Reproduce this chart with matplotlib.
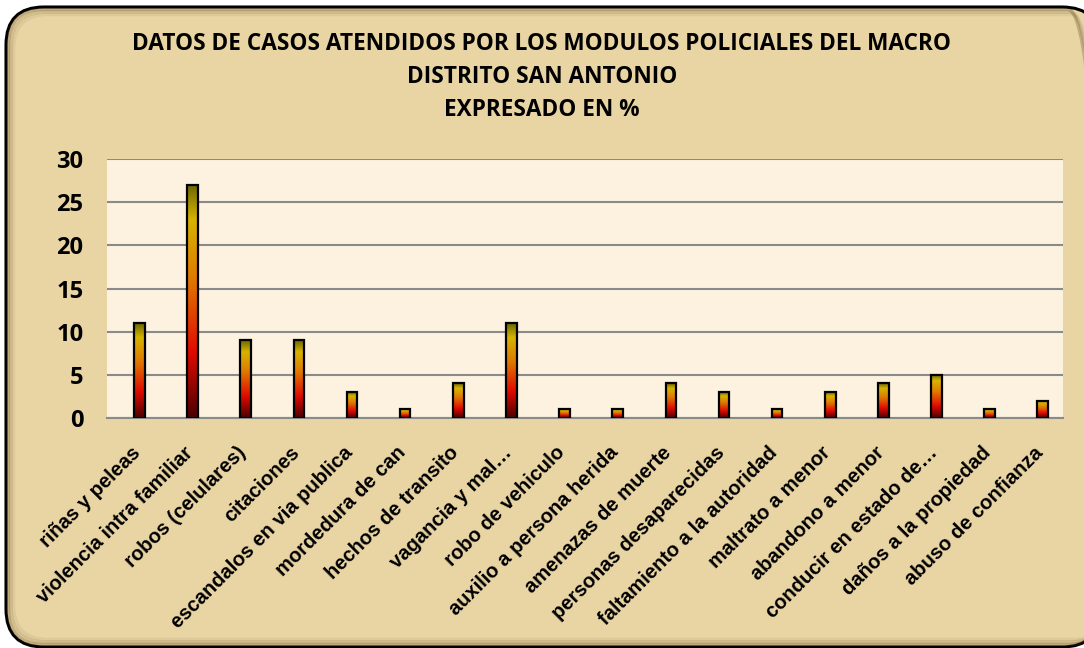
import numpy as np
import matplotlib
matplotlib.use("Agg")
import matplotlib.pyplot as plt
from matplotlib.colors import LinearSegmentedColormap
from matplotlib.patches import FancyBboxPatch
from matplotlib import font_manager
import matplotlib.transforms as mtransforms

categories = ["riñas y peleas", "violencia intra familiar", "robos (celulares)", "citaciones",
              "escandalos en via publica", "mordedura de can", "hechos de transito",
              "vagancia y mal…", "robo de vehiculo", "auxilio a persona herida",
              "amenazas de muerte", "personas desaparecidas", "faltamiento a la autoridad",
              "maltrato a menor", "abandono a menor", "conducir en estado de…",
              "daños a la propiedad", "abuso de confianza"]
values = [11, 27, 9, 9, 3, 1, 4, 11, 1, 1, 4, 3, 1, 3, 4, 5, 1, 2]
yticks = [0, 5, 10, 15, 20, 25, 30]
title = "DATOS DE CASOS ATENDIDOS POR LOS MODULOS POLICIALES DEL MACRO\nDISTRITO SAN ANTONIO\nEXPRESADO EN %"

names = {f.name for f in font_manager.fontManager.ttflist}
narrow = "Liberation Sans Narrow" if "Liberation Sans Narrow" in names else "Open Sans"

W, H = 1084, 648
fig = plt.figure(figsize=(W / 100, H / 100), dpi=100)
fig.patch.set_facecolor("white")

# rounded border with parchment fill
bg = FancyBboxPatch((6 / W, 1 - 647 / H), (1100 - 6) / W, (647 - 7) / H,
                    boxstyle="round,pad=0,rounding_size=0.035",
                    transform=fig.transFigure, facecolor="#e9d5a4",
                    edgecolor="black", linewidth=2.2, mutation_aspect=W / H, zorder=0)
fig.patches.append(bg)
# inner shadow approximation
for i, a in enumerate([0.25, 0.14, 0.07]):
    d = 2.5 + 2.5 * i
    sh = FancyBboxPatch(((6 + d) / W, 1 - (647 - d) / H), (1100 - 6) / W, (647 - 7 - 2 * d) / H,
                        boxstyle="round,pad=0,rounding_size=0.032",
                        transform=fig.transFigure, facecolor="none",
                        edgecolor=(0.3, 0.2, 0.05, a), linewidth=2.5, mutation_aspect=W / H, zorder=0.1)
    fig.patches.append(sh)

left, right, top, bottom = 107, 1063, 159, 418
ax = fig.add_axes([left / W, 1 - bottom / H, (right - left) / W, (bottom - top) / H])
ax.set_zorder(5)
ax.set_facecolor("#fcf2df")

x = np.arange(len(categories))
bw = 0.2

cmap = LinearSegmentedColormap.from_list("bar", [
    (0.0, "#4a0000"), (0.28, "#e00a00"), (0.6, "#e07a00"),
    (0.85, "#d6b400"), (1.0, "#6b6600")])
grad = np.linspace(0, 1, 256).reshape(-1, 1)

bars = ax.bar(x, values, width=bw, facecolor="none", edgecolor="black", linewidth=1.6, zorder=3)
for b in bars:
    x0, y0 = b.get_x(), b.get_y()
    w, h = b.get_width(), b.get_height()
    ax.imshow(grad, cmap=cmap, origin="lower", aspect="auto",
              extent=[x0, x0 + w, y0, y0 + h], zorder=2.5, interpolation="bilinear")
ax.set_xlim(-0.61, len(categories) - 1 + 0.38)
ax.set_ylim(0, 30)

ax.set_yticks(yticks)
ax.set_yticklabels([str(t) for t in yticks], fontsize=17, fontweight="bold", family=narrow)
ax.yaxis.grid(True, color="#8a8a8a", linewidth=1.5, zorder=1)
ax.set_axisbelow(True)
ax.tick_params(axis="y", length=0, pad=17)
ax.tick_params(axis="x", length=0, pad=0)
ax.set_xticks(x)
labels = ax.set_xticklabels(categories, rotation=45, ha="right", rotation_mode="anchor",
                            fontsize=14.5, fontweight="bold", family="Liberation Sans")
offset = mtransforms.ScaledTranslation(-9 / 100, -25 / 100, fig.dpi_scale_trans)
for lab in labels:
    lab.set_transform(lab.get_transform() + offset)
for s in ["left", "right", "top"]:
    ax.spines[s].set_visible(False)
ax.spines["bottom"].set_color("#8a8a8a")
ax.spines["bottom"].set_linewidth(1.5)

fig.text(0.5, 1 - 77 / H, title, ha="center", va="center", fontsize=16.3,
         fontweight="bold", family=narrow, linespacing=1.5, zorder=6)

fig.savefig("out.png", dpi=100, facecolor=fig.get_facecolor())
